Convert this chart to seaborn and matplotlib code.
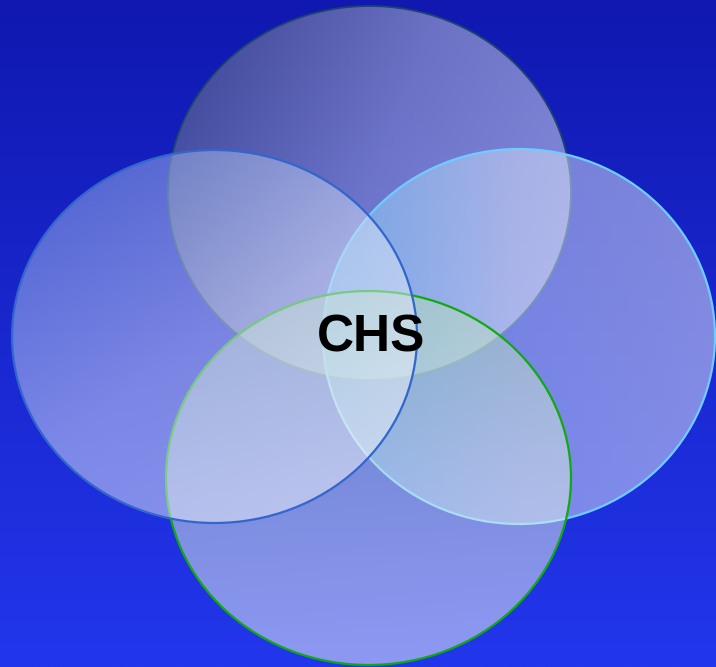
import numpy as np
import matplotlib
matplotlib.use("Agg")
import matplotlib.pyplot as plt
from matplotlib.patches import Ellipse
import seaborn as sns

# ---- data ----
labels = ["top", "right", "bottom", "left"]
center_x = [369.5, 519.0, 368.5, 214.5]
center_y = [193.0, 336.5, 478.0, 336.5]
widths = [403, 392, 405, 405]
heights = [374, 375, 374, 373]
edge_colors = ["#1c4470", "#70ccff", "#10aa10", "#3366cc"]
edge_widths = [1.3, 1.6, 1.6, 1.6]
fill_start = [(100, 108, 112), (128, 215, 255), (175, 220, 175), (130, 160, 228)]
fill_mid = [(200, 204, 215), (215, 228, 250), (220, 238, 225), (222, 230, 248)]
fill_end = [(250, 250, 252), (238, 240, 248), (255, 255, 255), (255, 255, 255)]
grad_dir = [(1.0, 0.35), (1.0, 0.0), (0.1, 1.0), (0.7, 1.0)]
center_label = "CHS"

W, H = 716, 667
sns.set_theme(style="white")
plt.rcParams["font.family"] = ["Liberation Sans", "DejaVu Sans"]

fig = plt.figure(figsize=(W / 100, H / 100), dpi=100)
ax = fig.add_axes([0, 0, 1, 1])
ax.set_xlim(0, W)
ax.set_ylim(H, 0)
ax.axis("off")

# background vertical gradient
top_c = np.array([16, 24, 176]) / 255
bot_c = np.array([34, 54, 236]) / 255
t = np.linspace(0, 1, 256)[:, None, None]
bg = top_c * (1 - t) + bot_c * t
bg = np.repeat(bg, 2, axis=1)
ax.imshow(bg, extent=[0, W, H, 0], aspect="auto", zorder=0, interpolation="bilinear")

alpha = 0.5
for i in range(len(labels)):
    cx, cy, w, h = center_x[i], center_y[i], widths[i], heights[i]
    x0, x1 = cx - w / 2, cx + w / 2
    y0, y1 = cy - h / 2, cy + h / 2
    n = 200
    xs = np.linspace(-0.5, 0.5, n)
    ys = np.linspace(-0.5, 0.5, n)
    X, Y = np.meshgrid(xs, ys)
    d = np.array(grad_dir[i], dtype=float)
    d /= np.linalg.norm(d)
    proj = X * d[0] + Y * d[1]
    proj = (proj - proj.min()) / (proj.max() - proj.min())
    c0 = np.array(fill_start[i]) / 255
    cm = np.array(fill_mid[i]) / 255
    c1 = np.array(fill_end[i]) / 255
    p = proj[..., None]
    rgb = np.where(p < 0.5, c0 + (cm - c0) * (p / 0.5), cm + (c1 - cm) * ((p - 0.5) / 0.5))
    img = np.zeros((n, n, 4))
    img[..., :3] = rgb
    img[..., 3] = alpha
    z = 1 + 2 * i
    e = Ellipse((cx, cy), w, h, facecolor="none", edgecolor="none")
    ax.add_patch(e)
    im = ax.imshow(img, extent=[x0, x1, y1, y0], aspect="auto", zorder=z,
                   interpolation="bilinear")
    im.set_clip_path(e)
    ax.add_patch(Ellipse((cx, cy), w, h, facecolor="none",
                         edgecolor=edge_colors[i], linewidth=edge_widths[i],
                         zorder=z + 0.5))

ax.set_xlim(0, W)
ax.set_ylim(H, 0)
ax.text(371, 338, center_label, ha="center", va="center", fontsize=37,
        fontweight="bold", color="black", zorder=20)

fig.savefig("out.png", dpi=100)
